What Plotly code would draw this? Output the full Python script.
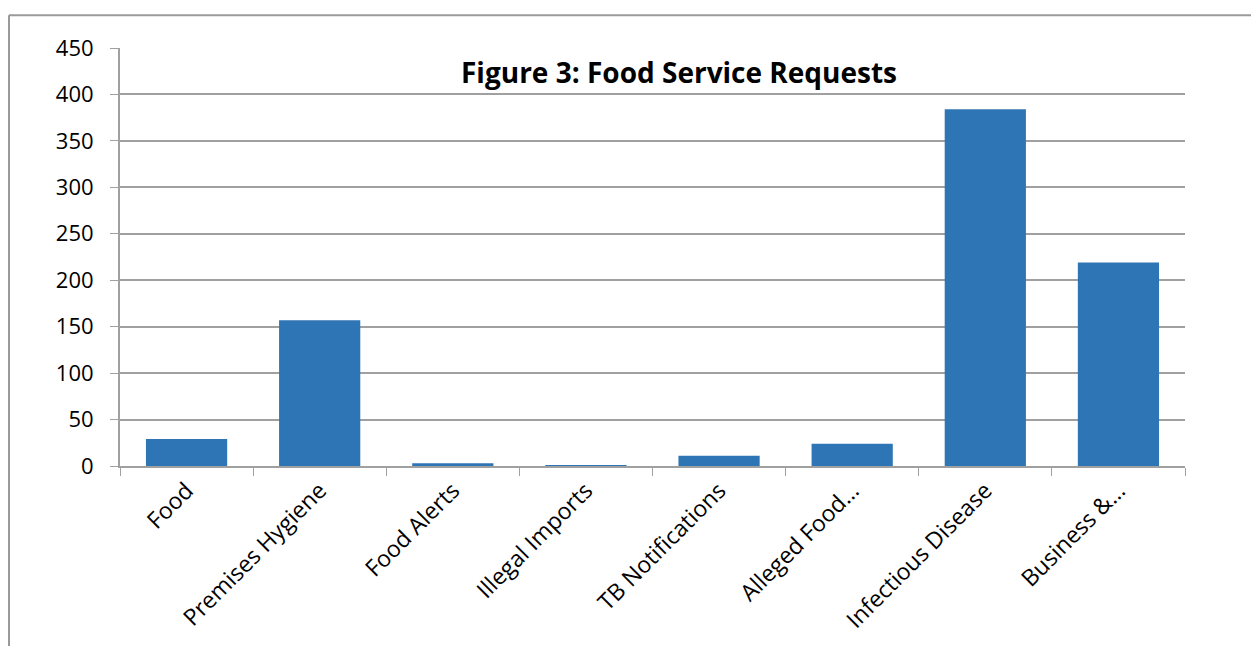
import plotly.graph_objects as go

categories = ["Food", "Premises Hygiene", "Food Alerts", "Illegal Imports",
              "TB Notifications", "Alleged Food…", "Infectious Disease", "Business &…"]
values = [29, 157, 3, 1, 11, 24, 384, 219]
y_ticks = [0, 50, 100, 150, 200, 250, 300, 350, 400, 450]

OFF = 8  # page body margin
W, H = 1259 - OFF, 646 - OFF
L, R, T, B = 120 - OFF, 1185 - OFF, 48 - OFF, 468 - OFF
pw, ph = R - L, B - T

def px(x):
    return (x - OFF - L) / pw

def py(y):
    return (B - (y - OFF)) / ph

grid = "#A0A0A0"
fig = go.Figure(go.Bar(x=categories, y=values, marker=dict(color="#2E75B6", line=dict(width=0)),
                       width=0.61))

fig.update_layout(
    width=W, height=H,
    margin=dict(l=L, r=W - R, t=T, b=H - B, pad=0),
    paper_bgcolor="white", plot_bgcolor="white",
    font=dict(family="Open Sans", size=23, color="black"),
    showlegend=False,
    xaxis=dict(tickangle=-45, ticks="outside", tickson="boundaries", ticklen=8,
               tickcolor=grid, showline=True, linecolor=grid, linewidth=2,
               showgrid=False, tickfont=dict(size=23), range=[-0.5, 7.5]),
    yaxis=dict(range=[0, 450], tickvals=y_ticks, ticks="outside", ticklen=8,
               tickcolor=grid, showline=True, linecolor=grid, linewidth=2,
               gridcolor=grid, gridwidth=2, zeroline=False, tickfont=dict(size=22),
               ticklabelstandoff=12),
    annotations=[dict(text="<b>Figure 3: Food Service Requests</b>", x=px(679), y=py(72),
                      xref="paper", yref="paper", showarrow=False,
                      font=dict(size=28, family="Open Sans"), xanchor="center", yanchor="middle")],
    shapes=[
        dict(type="line", xref="paper", yref="paper", x0=px(9), x1=px(1265), y0=py(15), y1=py(15),
             line=dict(color="#9A9A9A", width=2)),
        dict(type="line", xref="paper", yref="paper", x0=px(9), x1=px(9), y0=py(15), y1=py(660),
             line=dict(color="#9A9A9A", width=2)),
    ],
)

fig.write_html("out.html")
